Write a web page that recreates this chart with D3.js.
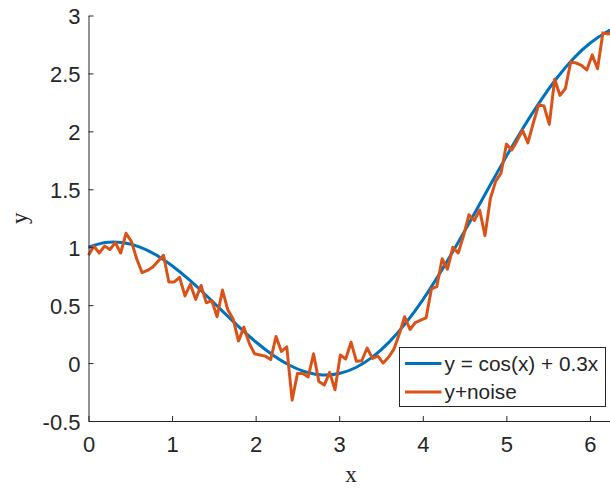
<!DOCTYPE html>
<html>
<head>
<meta charset="utf-8">
<script src="https://cdn.jsdelivr.net/npm/d3@7"></script>
<style>
  html, body { margin: 0; padding: 0; background: #fff; }
  svg { display: block; }
</style>
</head>
<body>
<svg id="chart" width="610" height="489"></svg>
<script>
// Axis ticks
const xTicks = [0, 1, 2, 3, 4, 5, 6];
const yTicks = [-0.5, 0, 0.5, 1, 1.5, 2, 2.5, 3];
const yTickLabels = ["-0.5", "0", "0.5", "1", "1.5", "2", "2.5", "3"];
const xDomain = [0, 6.2832];
const yDomain = [-0.5, 3];

// Smooth curve y = cos(x) + 0.3x, sampled points
const curveX = [0, 0.2, 0.4, 0.6, 0.8, 1.0, 1.2, 1.4, 1.6, 1.8, 2.0, 2.2, 2.4, 2.6, 2.8, 3.0,
                3.2, 3.4, 3.6, 3.8, 4.0, 4.2, 4.4, 4.6, 4.8, 5.0, 5.2, 5.4, 5.6, 5.8, 6.0, 6.2, 6.2832];
const curveY = [1.000, 1.040, 1.041, 1.005, 0.937, 0.840, 0.722, 0.590, 0.451, 0.313, 0.184,
                0.072, -0.017, -0.077, -0.102, -0.090, -0.038, 0.053, 0.183, 0.349, 0.546,
                0.770, 1.013, 1.268, 1.528, 1.784, 2.029, 2.255, 2.456, 2.626, 2.760, 2.857, 2.885];

// Noisy samples, evenly spaced over the x domain
const noiseY = [0.93, 1.01, 0.95, 1.01, 0.98, 1.04, 0.95, 1.12, 1.05, 0.90,
                0.78, 0.80, 0.83, 0.88, 0.93, 0.70, 0.70, 0.74, 0.58, 0.68,
                0.55, 0.67, 0.52, 0.54, 0.40, 0.63, 0.46, 0.38, 0.19, 0.31,
                0.17, 0.08, 0.07, 0.06, 0.03, 0.23, 0.10, 0.14, -0.32, -0.09,
                -0.09, -0.12, 0.08, -0.16, -0.19, -0.08, -0.23, 0.07, 0.035, 0.18,
                0.015, 0.02, 0.13, 0.04, 0.06, 0.00, 0.05, 0.12, 0.25, 0.40,
                0.29, 0.35, 0.37, 0.39, 0.64, 0.66, 0.90, 0.81, 1.00, 0.95,
                1.10, 1.28, 1.23, 1.32, 1.10, 1.42, 1.57, 1.64, 1.89, 1.84,
                1.92, 2.01, 1.90, 2.07, 2.23, 2.22, 2.06, 2.45, 2.31, 2.37,
                2.60, 2.59, 2.57, 2.53, 2.66, 2.54, 2.85, 2.84, 2.88];

const legendLabels = ["y = cos(x) + 0.3x", "y+noise"];
const seriesColors = ["#0072BD", "#D95319"];

const svg = d3.select("#chart");
const axisColor = "#262626";
const sansFont = "'Liberation Sans', Arial, Helvetica, sans-serif";
const serifFont = "'Liberation Serif', 'Times New Roman', serif";

const x = d3.scaleLinear().domain(xDomain).range([88.5, 613.6]);
const y = d3.scaleLinear().domain(yDomain).range([421, 15.5]);

// Data lines
const curveLine = d3.line()
  .x((d, i) => x(curveX[i]))
  .y(d => y(d))
  .curve(d3.curveNatural);

const noiseStep = (xDomain[1] - xDomain[0]) / (noiseY.length - 1);
const noiseLine = d3.line()
  .x((d, i) => x(xDomain[0] + i * noiseStep))
  .y(d => y(d));

svg.append("path")
  .datum(curveY)
  .attr("d", curveLine)
  .attr("fill", "none")
  .attr("stroke", seriesColors[0])
  .attr("stroke-width", 3)
  .attr("stroke-linejoin", "round");

svg.append("path")
  .datum(noiseY)
  .attr("d", noiseLine)
  .attr("fill", "none")
  .attr("stroke", seriesColors[1])
  .attr("stroke-width", 3)
  .attr("stroke-linejoin", "round");

// Axes with inward ticks
const xAxis = d3.axisBottom(x)
  .tickValues(xTicks)
  .tickFormat(d3.format("d"))
  .tickSizeInner(-5)
  .tickSizeOuter(0)
  .tickPadding(15);

const gx = svg.append("g")
  .attr("transform", "translate(0,421)")
  .call(xAxis);

const yAxis = d3.axisLeft(y)
  .tickValues(yTicks)
  .tickFormat((d, i) => yTickLabels[i])
  .tickSizeInner(-5)
  .tickSizeOuter(0)
  .tickPadding(8);

const gy = svg.append("g")
  .attr("transform", "translate(88.5,0)")
  .call(yAxis);

[gx, gy].forEach(g => {
  g.select(".domain").attr("stroke", axisColor).attr("stroke-width", 1);
  g.selectAll(".tick line").attr("stroke", axisColor).attr("stroke-width", 1);
  g.selectAll(".tick text")
    .attr("fill", axisColor)
    .style("font-family", sansFont)
    .style("font-size", "22px");
});
gy.selectAll(".tick text").attr("dy", "0.38em");

// Axis titles
svg.append("text")
  .attr("x", (x.range()[0] + x.range()[1]) / 2)
  .attr("y", 482)
  .attr("text-anchor", "middle")
  .attr("fill", axisColor)
  .style("font-family", serifFont)
  .style("font-size", "23px")
  .text("x");

svg.append("text")
  .attr("transform", `translate(27,${(y.range()[0] + y.range()[1]) / 2}) rotate(-90)`)
  .attr("text-anchor", "middle")
  .attr("fill", axisColor)
  .style("font-family", serifFont)
  .style("font-size", "23px")
  .text("y");

// Legend
const legend = svg.append("g").attr("transform", "translate(399.5,347.5)");
legend.append("rect")
  .attr("width", 206)
  .attr("height", 59)
  .attr("fill", "#fff")
  .attr("stroke", axisColor)
  .attr("stroke-width", 1);

legendLabels.forEach((label, i) => {
  const cy = 16 + i * 28.5;
  legend.append("line")
    .attr("x1", 5.5).attr("x2", 42)
    .attr("y1", cy).attr("y2", cy)
    .attr("stroke", seriesColors[i])
    .attr("stroke-width", 3);
  legend.append("text")
    .attr("x", 45)
    .attr("y", cy)
    .attr("dy", "0.36em")
    .attr("fill", axisColor)
    .style("font-family", sansFont)
    .style("font-size", "20.8px")
    .text(label);
});
</script>
</body>
</html>
